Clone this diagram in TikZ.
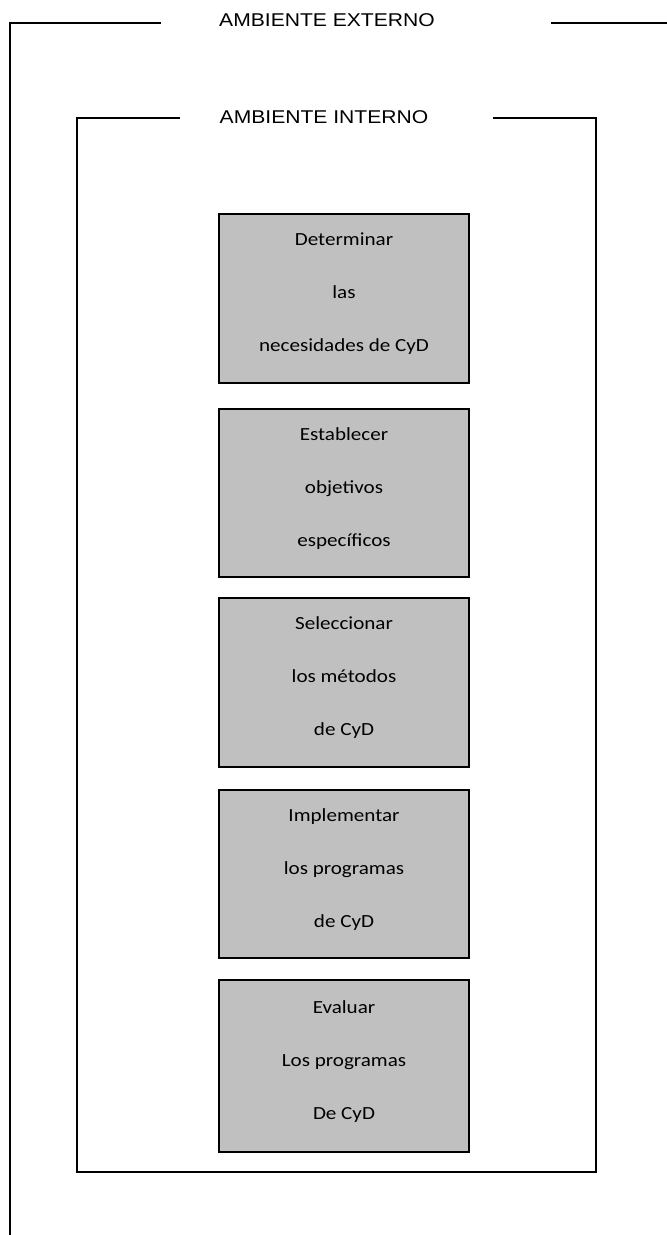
\documentclass[tikz,border=0pt]{standalone}
\usepackage{fontspec}
\setmainfont{Carlito}
\newfontfamily\headfont{Liberation Sans}
\newcommand{\sx}[1]{\scalebox{1.14}[1]{#1}}
\tikzset{
  frameline/.style={line width=1.3pt, line cap=rect},
  stepbox/.style={draw, line width=1.3pt, fill=boxgray, minimum width=250pt, inner sep=0pt, align=center,
    text depth=12pt, font=\fontsize{18.5}{53}\selectfont},
  headlabel/.style={inner sep=0pt, font=\headfont\fontsize{18.5}{22}\selectfont}
}
\definecolor{boxgray}{RGB}{192,192,192}
\begin{document}
\begin{tikzpicture}[x=1pt, y=-1pt]
\useasboundingbox (0,0) rectangle (667,1235);
% outer environment
\node[headlabel] (ext) at (327,20) {\sx{AMBIENTE EXTERNO}};
\coordinate (o1) at (160,23);
\coordinate (o2) at (10,23);
\coordinate (o3) at (10,1236);
\coordinate (o4) at (552,23);
\coordinate (o5) at (668,23);
\draw[frameline] (o1) -- (o2) -- (o3);
\draw[frameline] (o4) -- (o5);
% inner environment
\node[headlabel] (int) at (324,117) {\sx{AMBIENTE INTERNO}};
\coordinate (i1) at (179,118);
\coordinate (i2) at (77,118);
\coordinate (i3) at (77,1172);
\coordinate (i4) at (596,1172);
\coordinate (i5) at (596,118);
\coordinate (i6) at (494,118);
\draw[frameline] (i1) -- (i2) -- (i3) -- (i4) -- (i5) -- (i6);
% steps
\node[stepbox, minimum height=169pt] (b1) at (344,298.5) {\sx{Determinar}\\\sx{las}\\\sx{necesidades de CyD}};
\node[stepbox, minimum height=168pt] (b2) at (344,493) {\sx{Establecer}\\\sx{objetivos}\\\sx{específicos}};
\node[stepbox, minimum height=169pt] (b3) at (344,682.5) {\sx{Seleccionar}\\\sx{los métodos}\\\sx{de CyD}};
\node[stepbox, minimum height=168pt] (b4) at (344,874) {\sx{Implementar}\\\sx{los programas}\\\sx{de CyD}};
\node[stepbox, minimum height=172pt] (b5) at (344,1066) {\sx{Evaluar}\\\sx{Los programas}\\\sx{De CyD}};
\end{tikzpicture}
\end{document}
